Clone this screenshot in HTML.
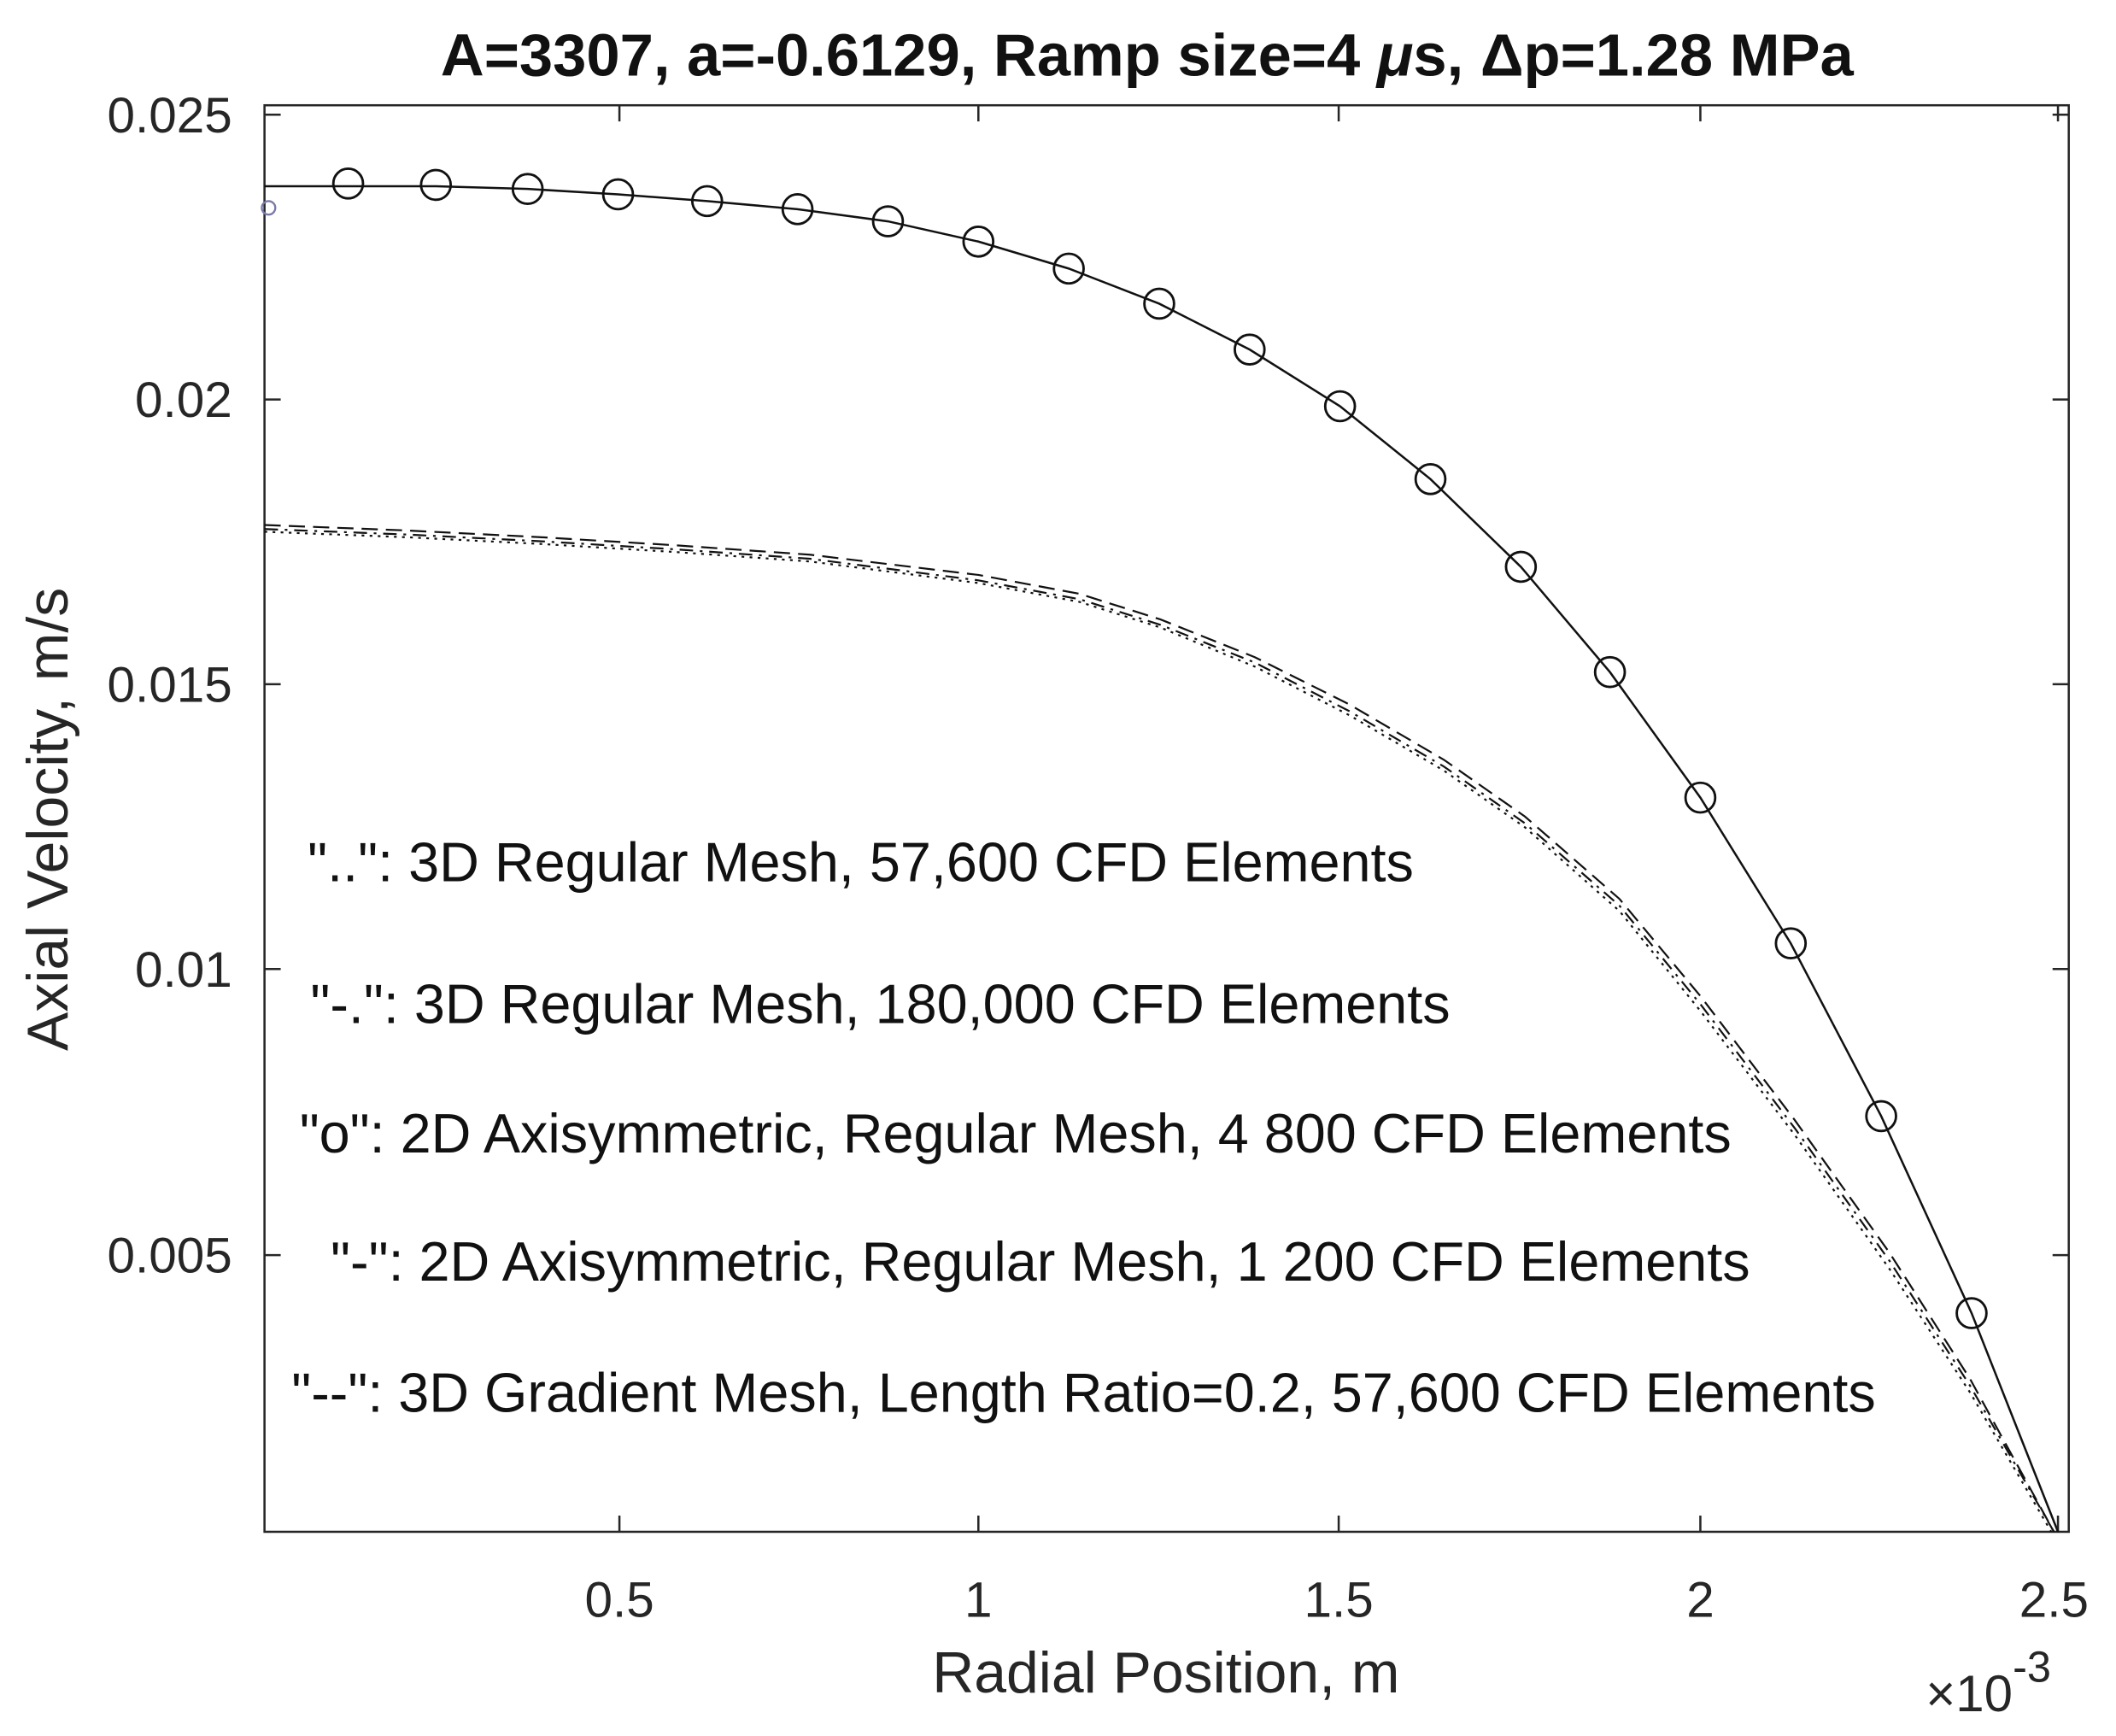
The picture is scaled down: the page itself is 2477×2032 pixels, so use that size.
<!DOCTYPE html>
<html><head><style>html,body{margin:0;padding:0;background:#fff}svg{display:block}</style></head>
<body>
<svg width="2477" height="2032" viewBox="0 0 1568 1286.3" xmlns="http://www.w3.org/2000/svg" font-family="Liberation Sans, Arial, sans-serif">
<rect width="1568" height="1287" fill="#fff"/>
<text x="850" y="56" font-size="44" font-weight="bold" text-anchor="middle" fill="#111" textLength="1047" lengthAdjust="spacingAndGlyphs">A=3307, a=-0.6129, Ramp size=4 <tspan font-style="italic">μ</tspan>s, Δp=1.28 MPa</text>
<g stroke="#262626" stroke-width="1.6" fill="none">
<rect x="196" y="78" width="1337" height="1057"/>
<path d="M459 1135v-12M725 1135v-12M992 1135v-12M1260 1135v-12M1525 1135v-12M459 78v12M725 78v12M992 78v12M1260 78v12M1525 78v12
M196 85h12M196 296h12M196 507h12M196 718h12M196 930h12M1533 85h-12M1533 296h-12M1533 507h-12M1533 718h-12M1533 930h-12"/>
</g>
<g font-size="37" fill="#262626" text-anchor="end">
<text x="172" y="98">0.025</text><text x="172" y="309">0.02</text><text x="172" y="520">0.015</text><text x="172" y="731">0.01</text><text x="172" y="943">0.005</text>
</g>
<g font-size="37" fill="#262626" text-anchor="middle">
<text x="459" y="1198">0.5</text><text x="725" y="1198">1</text><text x="992" y="1198">1.5</text><text x="1260" y="1198">2</text><text x="1522" y="1198">2.5</text>
</g>
<text x="864" y="1254" font-size="43" fill="#262626" text-anchor="middle">Radial Position, m</text>
<text x="1427" y="1268" font-size="38" fill="#262626">×10<tspan dy="-22" font-size="32">-3</tspan></text>
<text transform="translate(50,607) rotate(-90)" font-size="43" fill="#262626" text-anchor="middle">Axial Velocity, m/s</text>
<g fill="none" stroke="#111" stroke-width="1.6">
<polyline points="196,138 258,138 323,138 391,140 458,144 524,149 591,155 658,164 725,179 792,199 859,225 926,259 993,301 1060,355 1127,420 1193,498 1260,591 1327,699 1394,827 1461,973 1525,1135"/>
<g stroke-width="1.8">
<circle cx="258" cy="136" r="11"/><circle cx="323" cy="137" r="11"/><circle cx="391" cy="140" r="11"/><circle cx="458" cy="144" r="11"/><circle cx="524" cy="149" r="11"/><circle cx="591" cy="155" r="11"/><circle cx="658" cy="164" r="11"/><circle cx="725" cy="179" r="11"/><circle cx="792" cy="199" r="11"/><circle cx="859" cy="225" r="11"/><circle cx="926" cy="259" r="11"/><circle cx="993" cy="301" r="11"/><circle cx="1060" cy="355" r="11"/><circle cx="1127" cy="420" r="11"/><circle cx="1193" cy="498" r="11"/><circle cx="1260" cy="591" r="11"/><circle cx="1327" cy="699" r="11"/><circle cx="1394" cy="827" r="11"/><circle cx="1461" cy="973" r="11"/>
</g>
<polyline stroke-width="1.4" stroke-dasharray="12 6" points="196,389 300,393 400,398 500,404 600,411 725,426 800,440 860,459 930,487 1000,522 1070,563 1130,605 1200,666 1260,738 1330,830 1400,928 1460,1022 1522,1135"/>
<polyline stroke-width="1.4" stroke-dasharray="10 5 2 5" points="196,392 300,396 400,401 500,407 600,414 725,430 800,444 860,463 930,491 1000,527 1070,568 1130,610 1200,671 1260,744 1330,836 1400,934 1460,1027 1522,1135"/>
<polyline stroke-width="1.4" stroke-dasharray="2 4" points="196,394 300,398 400,403 500,409 600,416 725,432 800,446 860,465 930,494 1000,530 1070,571 1130,613 1200,675 1260,749 1330,841 1400,940 1460,1032 1520,1135"/>
</g>
<circle cx="199" cy="154" r="5" fill="none" stroke="#7a7aa8" stroke-width="1.5"/>
<g font-size="41" fill="#111">
<text x="228" y="653">"..": 3D Regular Mesh, 57,600 CFD Elements</text>
<text x="230" y="758">"-.": 3D Regular Mesh, 180,000 CFD Elements</text>
<text x="222" y="854">"o": 2D Axisymmetric, Regular Mesh, 4 800 CFD Elements</text>
<text x="245" y="949">"-": 2D Axisymmetric, Regular Mesh, 1 200 CFD Elements</text>
<text x="216" y="1046">"--": 3D Gradient Mesh, Length Ratio=0.2, 57,600 CFD Elements</text>
</g>
</svg>
</body></html>
